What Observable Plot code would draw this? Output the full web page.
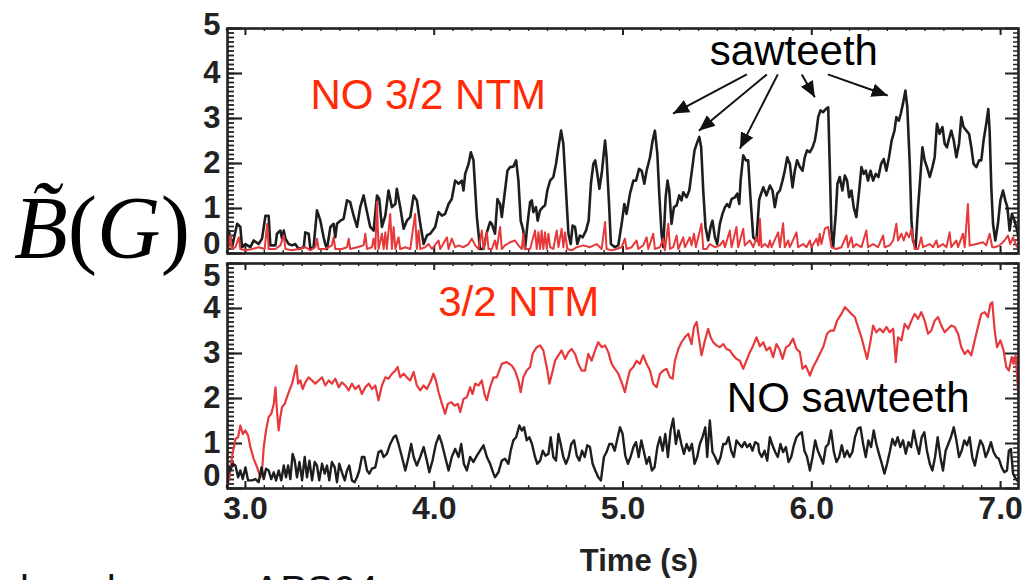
<!DOCTYPE html>
<html><head><meta charset="utf-8">
<script src="https://cdn.jsdelivr.net/npm/d3@7"></script>
<script src="https://cdn.jsdelivr.net/npm/@observablehq/plot@0.6"></script>
<style>
html,body{margin:0;padding:0;background:#fff;overflow:hidden}
#wrap{position:relative;width:1024px;height:580px;overflow:hidden;background:#fff}
#wrap svg{position:absolute;left:0}
</style></head><body><div id="wrap"></div>
<script>
// ---------------- DATA ----------------
const xDomain = [2.905, 7.095];
const yDomain = [0, 5];
const yMajor = [0, 1, 2, 3, 4, 5];
const xMajor = [3, 4, 5, 6, 7];
const xTickLabels = ["3.0", "4.0", "5.0", "6.0", "7.0"];
const yMinor = d3.range(0, 51).map(i => i / 10);
const xMinor = d3.range(29, 71).map(i => i / 10);

// Top panel: black = sawteeth signal, red = 3/2 mode (absent)
const topBlack = [[2.903,0.36],[2.912,0.51],[2.929,0.14],[2.956,0.66],[2.973,0.59],[2.982,0.14],[3.000,0.21],[3.026,0.14],[3.044,0.29],[3.070,0.21],[3.088,0.33],[3.106,0.84],[3.123,0.84],[3.132,0.18],[3.159,0.18],[3.167,0.44],[3.185,0.51],[3.194,0.33],[3.203,0.51],[3.212,0.33],[3.229,0.21],[3.247,0.18],[3.264,0.21],[3.282,0.10],[3.309,0.14],[3.317,0.47],[3.335,0.44],[3.344,0.10],[3.361,0.14],[3.379,0.96],[3.397,0.73],[3.414,0.36],[3.423,0.21],[3.432,0.10],[3.450,0.59],[3.467,0.66],[3.476,0.36],[3.485,0.66],[3.503,0.73],[3.520,0.77],[3.538,1.18],[3.555,1.14],[3.573,0.84],[3.591,0.59],[3.608,1.03],[3.626,1.29],[3.644,0.92],[3.661,0.59],[3.679,0.51],[3.697,1.29],[3.709,1.21],[3.723,0.59],[3.741,0.84],[3.758,1.40],[3.776,1.03],[3.794,1.10],[3.802,1.44],[3.820,1.03],[3.838,0.55],[3.855,0.73],[3.873,0.81],[3.891,1.29],[3.908,1.18],[3.926,0.66],[3.944,0.21],[3.961,0.40],[3.979,0.44],[4.005,0.59],[4.023,0.92],[4.041,0.84],[4.058,0.88],[4.076,1.10],[4.093,1.21],[4.111,1.62],[4.129,1.55],[4.146,1.62],[4.155,1.40],[4.164,1.77],[4.182,1.99],[4.194,2.25],[4.208,2.07],[4.226,0.81],[4.243,0.10],[4.261,0.10],[4.279,0.47],[4.296,0.70],
[4.305,0.66],[4.322,0.44],[4.335,1.21],[4.349,1.10],[4.358,0.81],[4.375,1.40],[4.388,1.84],[4.402,1.92],[4.419,1.93],[4.434,2.07],[4.446,1.62],[4.458,0.73],[4.472,0.51],[4.481,0.10],[4.494,0.66],[4.508,1.14],[4.517,1.18],[4.525,0.92],[4.539,1.03],[4.548,0.73],[4.561,0.96],[4.575,1.03],[4.587,1.07],[4.599,1.40],[4.614,1.62],[4.631,1.70],[4.645,1.99],[4.658,2.36],[4.672,2.73],[4.684,2.44],[4.698,1.40],[4.711,0.44],[4.723,0.21],[4.733,0.62],[4.746,0.59],[4.758,0.21],[4.772,0.40],[4.786,0.36],[4.804,0.51],[4.818,0.73],[4.830,1.55],[4.843,1.99],[4.853,2.07],[4.864,1.77],[4.875,1.44],[4.889,1.84],[4.905,2.51],[4.913,2.14],[4.926,1.10],[4.936,0.21],[4.957,0.14],[4.975,0.18],[4.993,0.66],[5.007,1.10],[5.019,0.88],[5.037,1.33],[5.055,1.62],[5.069,1.62],[5.085,1.88],[5.099,1.84],[5.113,1.55],[5.125,1.84],[5.143,2.14],[5.157,2.51],[5.169,2.73],[5.182,2.21],[5.192,1.33],[5.204,0.44],[5.213,0.14],[5.226,1.25],[5.236,1.62],[5.245,1.40],[5.257,0.66],[5.270,1.03],[5.284,1.07],[5.298,1.29],[5.310,1.18],[5.319,1.36],[5.337,1.25],[5.351,1.40],[5.365,1.84],[5.379,2.29],[5.393,2.47],[5.404,2.59],[5.414,2.36],[5.425,1.40],[5.437,0.59],[5.451,0.29],[5.464,0.59],[5.474,0.73],[5.487,0.36],[5.499,0.21],[5.513,0.66],[5.527,0.88],[5.540,1.03],[5.552,1.10],[5.563,1.03],[5.575,1.21],[5.593,1.25],[5.605,1.33],[5.616,1.10],[5.623,1.62],[5.637,2.18],[5.651,2.07],[5.663,2.07],[5.675,1.25],[5.690,0.36],[5.707,0.29],[5.721,1.18],
[5.725,1.25],[5.743,1.47],[5.760,1.29],[5.778,1.51],[5.792,1.40],[5.804,1.03],[5.817,1.33],[5.831,1.40],[5.845,1.62],[5.857,1.84],[5.870,2.14],[5.884,1.99],[5.898,1.47],[5.910,1.84],[5.922,2.07],[5.937,1.92],[5.951,1.84],[5.963,2.14],[5.975,2.29],[5.990,2.25],[6.004,2.36],[6.016,2.51],[6.025,2.73],[6.034,3.03],[6.046,3.18],[6.060,3.14],[6.074,3.21],[6.087,3.25],[6.095,1.99],[6.104,0.51],[6.113,0.14],[6.127,0.88],[6.136,1.55],[6.148,1.70],[6.162,1.40],[6.175,1.73],[6.187,1.62],[6.198,1.25],[6.210,1.40],[6.222,1.03],[6.236,0.81],[6.251,1.40],[6.263,1.92],[6.275,1.77],[6.286,1.84],[6.298,1.62],[6.311,1.84],[6.325,1.62],[6.339,1.77],[6.353,1.70],[6.367,1.99],[6.381,2.10],[6.395,1.84],[6.409,2.14],[6.423,2.51],[6.438,2.73],[6.448,3.03],[6.461,2.95],[6.471,3.10],[6.483,3.33],[6.496,3.62],[6.506,3.25],[6.519,1.99],[6.528,0.73],[6.536,0.29],[6.550,0.14],[6.563,1.03],[6.575,1.70],[6.586,2.36],[6.598,2.07],[6.610,1.92],[6.625,1.70],[6.639,1.92],[6.651,2.14],[6.663,2.88],[6.677,2.66],[6.692,2.81],[6.704,2.44],[6.716,2.36],[6.727,2.55],[6.739,2.73],[6.752,2.51],[6.766,2.14],[6.780,2.44],[6.792,3.03],[6.804,2.81],[6.819,2.73],[6.833,2.66],[6.845,2.36],[6.857,1.99],[6.872,1.92],[6.886,2.07],[6.898,2.07],[6.910,2.51],[6.924,2.88],[6.935,3.21],[6.942,2.73],[6.951,1.47],[6.960,0.66],[6.972,0.29],[6.986,0.66],[6.999,1.18],[7.013,1.40],[7.025,1.18],[7.036,1.03],[7.048,0.51],[7.060,0.88],[7.074,0.73],[7.088,0.51],[7.101,0.21]];

const topRed = [[2.894,0.10],[2.912,0.14],[2.920,0.40],[2.929,0.10],[2.947,0.14],[2.965,0.36],[2.973,0.10],[3.000,0.07],[3.035,0.10],[3.070,0.14],[3.102,0.10],[3.115,0.66],[3.123,0.10],[3.159,0.10],[3.185,0.18],[3.203,0.40],[3.212,0.10],[3.247,0.07],[3.282,0.10],[3.317,0.14],[3.344,0.07],[3.370,0.14],[3.379,0.33],[3.388,0.10],[3.423,0.10],[3.458,0.18],[3.467,0.36],[3.476,0.10],[3.511,0.10],[3.538,0.14],[3.547,0.33],[3.555,0.10],[3.591,0.14],[3.626,0.18],[3.635,0.44],[3.644,0.10],[3.670,0.14],[3.679,0.33],[3.688,0.10],[3.697,1.15],[3.705,0.10],[3.723,0.44],[3.732,0.10],[3.741,0.47],[3.749,0.10],[3.767,0.88],[3.776,0.10],[3.785,0.59],[3.794,0.10],[3.811,0.36],[3.820,0.10],[3.847,0.14],[3.873,0.10],[3.899,0.88],[3.908,0.10],[3.917,0.51],[3.926,0.10],[3.952,0.14],[3.970,0.21],[3.988,0.10],[4.023,0.29],[4.032,0.10],[4.067,0.36],[4.076,0.10],[4.093,0.33],[4.111,0.14],[4.129,0.18],[4.155,0.14],[4.182,0.21],[4.199,0.33],[4.217,0.18],[4.235,0.10],[4.252,0.51],[4.261,0.10],[4.279,0.47],[4.288,0.10],
[4.305,0.10],[4.322,0.29],[4.331,0.10],[4.349,0.59],[4.358,0.10],[4.375,0.18],[4.402,0.25],[4.428,0.29],[4.446,0.18],[4.464,0.10],[4.472,0.44],[4.481,0.10],[4.508,0.10],[4.534,0.51],[4.543,0.10],[4.552,0.47],[4.561,0.10],[4.569,0.51],[4.578,0.10],[4.587,0.47],[4.596,0.10],[4.605,0.44],[4.614,0.14],[4.631,0.10],[4.649,0.51],[4.658,0.14],[4.675,0.55],[4.684,0.14],[4.693,0.47],[4.705,0.10],[4.728,0.07],[4.755,0.14],[4.790,0.18],[4.825,0.14],[4.860,0.21],[4.887,0.10],[4.905,0.70],[4.913,0.10],[4.940,0.07],[4.966,0.10],[4.993,0.14],[5.010,0.33],[5.019,0.10],[5.046,0.14],[5.072,0.29],[5.081,0.10],[5.107,0.18],[5.125,0.36],[5.134,0.10],[5.160,0.44],[5.169,0.10],[5.196,0.14],[5.213,0.33],[5.222,0.07],[5.240,0.66],[5.249,0.10],[5.266,0.14],[5.284,0.40],[5.293,0.10],[5.319,0.36],[5.328,0.14],[5.354,0.36],[5.363,0.18],[5.376,0.44],[5.386,0.14],[5.416,0.66],[5.425,0.10],[5.443,0.10],[5.460,0.21],[5.487,0.14],[5.513,0.18],[5.531,0.29],[5.540,0.14],[5.566,0.51],[5.575,0.14],[5.601,0.59],[5.610,0.14],[5.637,0.55],[5.645,0.18],[5.672,0.29],[5.690,0.14],[5.707,0.36],[5.721,0.18],
[5.725,0.77],[5.734,0.14],[5.751,0.21],[5.769,0.14],[5.778,0.29],[5.787,0.14],[5.822,0.47],[5.831,0.14],[5.848,0.67],[5.857,0.14],[5.875,0.29],[5.884,0.14],[5.919,0.47],[5.928,0.14],[5.954,0.21],[5.972,0.14],[5.990,0.29],[5.998,0.14],[6.025,0.33],[6.034,0.18],[6.042,0.44],[6.051,0.21],[6.069,0.55],[6.087,0.59],[6.095,0.36],[6.104,0.14],[6.131,0.10],[6.157,0.14],[6.184,0.40],[6.192,0.14],[6.210,0.36],[6.219,0.14],[6.236,0.21],[6.263,0.14],[6.289,0.51],[6.298,0.14],[6.325,0.21],[6.351,0.14],[6.378,0.40],[6.386,0.14],[6.413,0.18],[6.431,0.29],[6.448,0.66],[6.457,0.29],[6.475,0.44],[6.487,0.29],[6.501,0.47],[6.515,0.36],[6.528,0.55],[6.545,0.10],[6.563,0.10],[6.580,0.36],[6.589,0.14],[6.625,0.21],[6.642,0.14],[6.660,0.29],[6.669,0.14],[6.695,0.21],[6.713,0.14],[6.730,0.47],[6.739,0.14],[6.766,0.29],[6.775,0.14],[6.801,0.44],[6.810,0.14],[6.827,1.10],[6.836,0.18],[6.872,0.21],[6.907,0.25],[6.924,0.18],[6.942,0.44],[6.956,0.14],[6.969,0.14],[6.995,0.18],[7.021,0.29],[7.039,0.40],[7.051,0.21],[7.066,0.36],[7.083,0.18],[7.097,0.10]];

// Bottom panel: red = 3/2 NTM, black = no sawteeth
const bottomRed = [[2.903,0.03],[2.915,0.25],[2.929,0.70],[2.947,1.10],[2.961,1.14],[2.973,1.40],[2.986,1.21],[3.000,1.29],[3.014,1.18],[3.026,0.92],[3.044,0.66],[3.062,0.47],[3.079,0.25],[3.088,0.40],[3.097,0.92],[3.109,1.29],[3.123,1.59],[3.137,1.66],[3.150,1.88],[3.159,2.25],[3.167,1.73],[3.176,1.29],[3.185,1.59],[3.194,1.81],[3.208,1.88],[3.220,2.03],[3.233,2.18],[3.247,2.33],[3.259,2.55],[3.270,2.73],[3.279,2.33],[3.291,2.40],[3.303,2.21],[3.317,2.36],[3.335,2.47],[3.353,2.40],[3.370,2.33],[3.388,2.40],[3.406,2.47],[3.423,2.29],[3.441,2.40],[3.458,2.33],[3.476,2.44],[3.494,2.25],[3.511,2.36],[3.529,2.29],[3.547,2.18],[3.564,2.33],[3.582,2.21],[3.600,2.29],[3.617,2.10],[3.635,2.25],[3.653,2.33],[3.670,2.21],[3.688,2.29],[3.705,1.96],[3.723,2.29],[3.741,2.47],[3.758,2.44],[3.776,2.55],[3.794,2.62],[3.806,2.70],[3.820,2.47],[3.838,2.55],[3.855,2.47],[3.873,2.40],[3.891,2.59],[3.908,2.29],[3.926,2.18],[3.944,2.29],[3.961,2.21],[3.979,2.36],[3.996,2.55],[4.009,2.40],[4.023,2.14],[4.041,1.88],[4.058,1.66],[4.072,1.88],[4.090,1.92],[4.108,1.84],[4.125,1.88],[4.138,1.70],[4.155,1.99],[4.173,2.03],[4.190,2.25],[4.203,2.10],[4.217,2.33],[4.235,2.29],[4.252,2.40],[4.266,2.10],[4.279,1.96],[4.296,2.25],[4.314,2.47],
[4.331,2.47],[4.358,2.77],[4.384,2.81],[4.411,2.73],[4.428,2.62],[4.446,2.40],[4.458,2.14],[4.472,2.47],[4.490,2.62],[4.508,2.70],[4.522,3.00],[4.543,3.14],[4.561,3.18],[4.578,3.07],[4.596,2.70],[4.610,2.33],[4.628,2.62],[4.640,2.84],[4.658,2.96],[4.675,3.07],[4.693,2.88],[4.711,3.03],[4.728,3.10],[4.746,2.99],[4.763,2.77],[4.781,2.62],[4.799,2.62],[4.816,2.99],[4.834,2.84],[4.852,3.07],[4.869,3.25],[4.887,3.14],[4.905,3.18],[4.922,3.03],[4.940,2.77],[4.957,2.66],[4.975,2.55],[4.993,2.36],[5.010,2.14],[5.023,2.40],[5.037,2.62],[5.055,2.70],[5.072,2.84],[5.090,2.77],[5.107,2.96],[5.125,2.77],[5.143,2.62],[5.160,2.33],[5.178,2.25],[5.196,2.55],[5.213,2.62],[5.231,2.66],[5.249,2.47],[5.263,2.44],[5.275,2.84],[5.293,3.10],[5.310,3.25],[5.328,3.36],[5.346,3.44],[5.363,3.21],[5.376,3.59],[5.390,3.70],[5.404,3.29],[5.416,2.96],[5.434,3.29],[5.451,3.55],[5.464,3.36],[5.478,3.25],[5.495,3.18],[5.513,3.14],[5.531,3.21],[5.548,3.10],[5.566,3.07],[5.584,2.96],[5.601,2.88],[5.619,2.84],[5.637,2.66],[5.654,2.84],[5.672,3.03],[5.690,3.18],[5.707,3.36],[5.721,3.21],
[5.725,3.16],[5.743,3.25],[5.760,3.07],[5.778,3.14],[5.795,2.92],[5.813,3.21],[5.831,3.07],[5.845,2.88],[5.863,3.14],[5.880,3.18],[5.901,3.33],[5.919,3.10],[5.937,3.03],[5.951,2.66],[5.968,2.73],[5.990,2.51],[6.007,2.70],[6.025,2.84],[6.042,2.99],[6.060,3.14],[6.081,3.44],[6.099,3.51],[6.117,3.51],[6.134,3.73],[6.157,3.88],[6.175,4.03],[6.192,3.96],[6.210,3.88],[6.228,3.81],[6.245,3.59],[6.263,3.36],[6.281,3.07],[6.293,2.88],[6.307,3.18],[6.325,3.62],[6.342,3.47],[6.360,3.55],[6.378,3.47],[6.395,3.59],[6.413,3.47],[6.431,3.55],[6.445,2.81],[6.457,3.36],[6.475,3.29],[6.492,3.66],[6.510,3.55],[6.528,3.73],[6.545,3.88],[6.563,3.77],[6.580,3.92],[6.598,3.73],[6.616,3.44],[6.633,3.51],[6.651,3.73],[6.669,3.81],[6.686,3.62],[6.704,3.47],[6.722,3.55],[6.739,3.62],[6.757,3.59],[6.775,3.44],[6.792,3.14],[6.810,2.99],[6.827,3.07],[6.845,2.96],[6.863,3.29],[6.880,3.59],[6.898,3.88],[6.916,3.92],[6.933,3.81],[6.946,4.10],[6.956,4.14],[6.969,3.51],[6.981,3.14],[6.999,3.29],[7.016,3.07],[7.030,2.70],[7.044,2.62],[7.059,2.92],[7.069,2.77],[7.080,2.96],[7.089,2.40],[7.097,1.90]];

const bottomBlack = [[2.903,0.10],[2.912,0.47],[2.920,0.40],[2.933,0.55],[2.947,0.51],[2.961,0.25],[2.973,0.40],[2.986,0.21],[3.000,0.47],[3.014,0.18],[3.035,0.18],[3.053,0.21],[3.070,0.14],[3.085,0.47],[3.097,0.21],[3.109,0.44],[3.123,0.40],[3.137,0.21],[3.150,0.36],[3.162,0.18],[3.176,0.40],[3.190,0.18],[3.203,0.51],[3.215,0.25],[3.226,0.51],[3.238,0.21],[3.250,0.77],[3.261,0.62],[3.273,0.25],[3.286,0.59],[3.300,0.18],[3.314,0.70],[3.326,0.25],[3.339,0.62],[3.353,0.18],[3.367,0.59],[3.379,0.51],[3.391,0.18],[3.406,0.55],[3.420,0.33],[3.432,0.51],[3.444,0.18],[3.458,0.59],[3.473,0.47],[3.485,0.14],[3.497,0.55],[3.511,0.36],[3.526,0.18],[3.538,0.40],[3.550,0.51],[3.564,0.18],[3.578,0.14],[3.591,0.25],[3.603,0.40],[3.617,0.70],[3.630,0.70],[3.644,0.40],[3.656,0.33],[3.670,0.44],[3.688,0.47],[3.705,0.81],[3.720,0.84],[3.732,0.70],[3.749,0.77],[3.767,0.99],[3.785,1.14],[3.797,1.18],[3.811,0.99],[3.829,0.70],[3.847,0.40],[3.864,0.70],[3.878,0.99],[3.891,0.70],[3.908,0.51],[3.926,0.70],[3.944,0.92],[3.961,0.62],[3.974,0.36],[3.991,0.62],[4.009,0.99],[4.026,1.18],[4.041,0.99],[4.058,0.70],[4.076,0.40],[4.093,0.70],[4.111,0.88],[4.129,0.70],[4.143,0.99],[4.157,0.55],[4.173,0.40],[4.190,0.70],[4.208,0.59],[4.226,0.73],[4.243,0.84],[4.261,0.96],[4.279,0.70],[4.296,0.55],[4.314,0.33],
[4.322,0.25],[4.340,0.36],[4.358,0.62],[4.375,0.66],[4.393,0.55],[4.405,0.84],[4.419,1.07],[4.434,1.14],[4.451,1.40],[4.464,1.29],[4.476,1.36],[4.490,1.07],[4.504,1.14],[4.518,0.99],[4.534,0.70],[4.546,0.55],[4.561,0.62],[4.575,0.84],[4.589,0.73],[4.605,0.77],[4.617,1.14],[4.631,0.70],[4.645,0.62],[4.658,1.21],[4.670,0.99],[4.684,0.70],[4.698,0.55],[4.712,0.70],[4.726,0.99],[4.741,1.07],[4.755,0.73],[4.769,0.62],[4.783,0.84],[4.797,0.70],[4.811,0.96],[4.825,0.92],[4.839,0.55],[4.853,0.40],[4.869,0.25],[4.883,0.18],[4.899,0.70],[4.913,0.81],[4.928,0.99],[4.942,0.99],[4.956,0.84],[4.970,1.10],[4.984,1.36],[4.998,1.21],[5.012,0.73],[5.026,0.55],[5.040,0.70],[5.055,0.92],[5.069,1.03],[5.083,0.70],[5.097,1.07],[5.111,0.81],[5.125,0.55],[5.139,0.70],[5.153,0.40],[5.167,0.47],[5.182,0.92],[5.196,1.14],[5.210,0.84],[5.224,1.21],[5.238,0.70],[5.252,1.29],[5.266,1.55],[5.280,0.99],[5.294,1.29],[5.309,0.99],[5.323,0.77],[5.337,0.99],[5.351,0.84],[5.365,0.99],[5.379,0.55],[5.393,0.70],[5.407,0.99],[5.421,1.14],[5.436,1.36],[5.446,0.70],[5.460,1.51],[5.474,0.81],[5.488,0.70],[5.503,0.55],[5.517,0.70],[5.531,0.99],[5.545,0.99],[5.559,1.14],[5.573,0.84],[5.587,0.70],[5.601,1.07],[5.615,0.99],[5.630,0.92],[5.644,1.03],[5.658,0.92],[5.672,0.99],[5.686,0.84],[5.700,1.03],[5.716,0.99],
[5.721,0.81],[5.735,0.70],[5.750,0.84],[5.764,0.62],[5.778,1.14],[5.792,0.96],[5.806,0.81],[5.820,0.70],[5.834,0.99],[5.848,0.81],[5.863,0.92],[5.877,0.59],[5.891,0.70],[5.905,0.96],[5.919,1.14],[5.933,1.21],[5.947,1.25],[5.961,0.84],[5.975,0.70],[5.990,0.40],[6.004,0.70],[6.018,1.07],[6.032,0.84],[6.046,0.70],[6.060,0.55],[6.074,0.92],[6.088,0.99],[6.102,1.29],[6.117,0.81],[6.131,0.59],[6.145,0.70],[6.159,0.96],[6.173,0.70],[6.187,0.84],[6.201,0.70],[6.215,0.81],[6.229,1.14],[6.244,1.33],[6.258,1.36],[6.272,0.99],[6.286,0.70],[6.300,1.07],[6.314,0.92],[6.328,1.29],[6.342,0.99],[6.356,0.77],[6.371,0.55],[6.385,0.33],[6.399,0.55],[6.413,0.81],[6.427,1.10],[6.441,0.96],[6.455,1.14],[6.469,0.92],[6.483,1.07],[6.498,0.77],[6.512,1.03],[6.526,0.92],[6.540,1.29],[6.554,0.99],[6.568,0.77],[6.582,1.14],[6.596,1.25],[6.610,0.84],[6.625,0.55],[6.639,0.40],[6.653,0.70],[6.667,1.14],[6.681,0.70],[6.695,0.40],[6.709,0.84],[6.723,0.99],[6.737,1.14],[6.752,1.36],[6.766,1.07],[6.780,0.70],[6.794,0.84],[6.808,1.07],[6.822,0.96],[6.836,1.14],[6.850,0.70],[6.864,0.51],[6.879,0.84],[6.893,1.07],[6.907,0.96],[6.921,0.70],[6.935,0.84],[6.949,1.03],[6.963,0.81],[6.977,0.70],[6.991,0.66],[7.006,0.47],[7.020,0.36],[7.034,0.40],[7.044,0.84],[7.055,0.88],[7.066,0.33],[7.076,0.25],[7.087,0.18]];

// Annotations (data coordinates)
const topNotes = [
  {x: 3.344, y: 3.22, text: "NO 3/2 NTM", color: "red"},
  {x: 5.460, y: 4.19, text: "sawteeth", color: "black"}
];
const bottomNotes = [
  {x: 4.021, y: 3.84, text: "3/2 NTM", color: "red"},
  {x: 5.550, y: 1.69, text: "NO sawteeth", color: "black"}
];
const sawArrows = [
  {x1: 5.656, y1: 3.98, x2: 5.265, y2: 3.11},
  {x1: 5.762, y1: 3.98, x2: 5.402, y2: 2.73},
  {x1: 5.820, y1: 3.98, x2: 5.619, y2: 2.33},
  {x1: 5.947, y1: 3.98, x2: 6.016, y2: 3.47},
  {x1: 6.085, y1: 3.98, x2: 6.402, y2: 3.51}
];
const yLabelText = ["0", "1", "2", "3", "4", "5"];
const xTitle = "Time (s)";
const yTitleParts = ["B\u0303", "(", "G", ")"];
const footText = "laced curves APS04";

// ---------------- STYLE ----------------
const INK = "#222222";
const LINE_BLACK = "#1e1e1e";
const LINE_RED = "#e6393b";
const TEXT_RED = "#ff2a06";
const SANS = "'Liberation Sans', Arial, Helvetica, sans-serif";
const SERIF = "'Liberation Serif', 'Times New Roman', serif";
const colorOf = c => c === "red" ? TEXT_RED : "#000";

function headMarker(color) {
  const ns = "http://www.w3.org/2000/svg";
  const m = document.createElementNS(ns, "marker");
  m.setAttribute("viewBox", "-10 -5 10 10");
  m.setAttribute("markerWidth", 8);
  m.setAttribute("markerHeight", 8);
  m.setAttribute("orient", "auto");
  const p = document.createElementNS(ns, "path");
  p.setAttribute("d", "M-10,-4.3L0,0L-10,4.3Z");
  p.setAttribute("fill", color);
  p.setAttribute("stroke", "none");
  m.appendChild(p);
  return m;
}

function panel({height, marginTop, marginBottom, series, notes, arrows, labelShift, showX, useMarker}) {
  const marginLeft = 227, marginRight = 6;
  const plotW = 1024 - marginLeft - marginRight;
  const plotH = height - marginTop - marginBottom;
  const marks = [];
  marks.push(Plot.ruleY(yMinor, {stroke: INK, strokeWidth: 1.8, insetRight: plotW - 7}));
  marks.push(Plot.ruleY(yMajor, {stroke: INK, strokeWidth: 2.2, insetRight: plotW - 15}));
  marks.push(Plot.ruleY(yMinor, {stroke: INK, strokeWidth: 1.5, insetLeft: plotW - 5}));
  marks.push(Plot.ruleY(yMajor, {stroke: INK, strokeWidth: 2, insetLeft: plotW - 13}));
  marks.push(Plot.ruleX(xMinor, {stroke: INK, strokeWidth: 1.4, insetBottom: plotH - 3}));
  marks.push(Plot.ruleX(xMajor, {stroke: INK, strokeWidth: 2, insetBottom: plotH - 7}));
  marks.push(Plot.ruleX(xMinor, {stroke: INK, strokeWidth: 1.4, insetTop: plotH - 3}));
  marks.push(Plot.ruleX(xMajor, {stroke: INK, strokeWidth: 2, insetTop: plotH - 7}));
  for (const s of series) {
    marks.push(Plot.line(s.data, {x: d => d[0], y: d => d[1], stroke: s.stroke, strokeWidth: s.width, clip: true, strokeLinejoin: "round"}));
  }
  marks.push(Plot.frame({stroke: INK, strokeWidth: 2.6}));
  yMajor.forEach((v, i) => {
    marks.push(Plot.text([v], {y: d => d, frameAnchor: "left", text: () => yLabelText[i], textAnchor: "end", dx: -7, dy: labelShift[v] || 0, fontSize: 31, fontWeight: "bold", fill: INK, fontFamily: SANS}));
  });
  if (showX) {
    marks.push(Plot.text(xMajor, {x: d => d, frameAnchor: "bottom", text: (d, i) => xTickLabels[i], dy: 30, fontSize: 32, fontWeight: "bold", fill: INK, fontFamily: SANS}));
  }
  marks.push(Plot.text(notes, {x: "x", y: "y", text: "text", fill: d => colorOf(d.color), textAnchor: "start", lineAnchor: "bottom", fontSize: 42, fontFamily: SANS}));
  if (arrows && arrows.length) {
    if (useMarker) {
      marks.push(Plot.link(arrows, {x1: "x1", y1: "y1", x2: "x2", y2: "y2", stroke: "#111", strokeWidth: 2, markerEnd: headMarker}));
    } else {
      marks.push(Plot.arrow(arrows, {x1: "x1", y1: "y1", x2: "x2", y2: "y2", stroke: "#111", strokeWidth: 2, headLength: 14, headAngle: 45}));
    }
  }
  return Plot.plot({
    width: 1024, height, marginLeft, marginRight, marginTop, marginBottom,
    x: {domain: xDomain, axis: null},
    y: {domain: yDomain, axis: null},
    color: {type: "identity"},
    style: {fontFamily: SANS, background: "transparent", overflow: "visible"},
    marks
  });
}

const wrap = document.getElementById("wrap");

function makeTop(useMarker) {
  return panel({height: 256, marginTop: 28, marginBottom: 3,
    series: [{data: topBlack, stroke: LINE_BLACK, width: 2.6}, {data: topRed, stroke: LINE_RED, width: 2}],
    notes: topNotes, arrows: sawArrows, labelShift: {0: -9, 5: -3}, showX: false, useMarker});
}
let topSvg;
try { topSvg = makeTop(true); } catch (e) { topSvg = makeTop(false); }
topSvg.style.top = "0px";
wrap.appendChild(topSvg);

const bottomSvg = panel({height: 324, marginTop: 7, marginBottom: 92,
  series: [{data: bottomRed, stroke: LINE_RED, width: 2.2}, {data: bottomBlack, stroke: LINE_BLACK, width: 2.4}],
  notes: bottomNotes, arrows: [], labelShift: {0: -12, 5: 13}, showX: true});
bottomSvg.style.top = "256px";
wrap.appendChild(bottomSvg);

const ov = d3.create("svg").attr("width", 1024).attr("height", 580)
  .style("top", "0px").style("pointer-events", "none");
const yt = ov.append("text").attr("x", 14).attr("y", 257)
  .attr("font-family", SERIF).attr("font-size", 88).attr("fill", "#000");
yt.append("tspan").attr("font-style", "italic").text(yTitleParts[0]);
yt.append("tspan").text(yTitleParts[1]);
yt.append("tspan").attr("font-style", "italic").text(yTitleParts[2]);
yt.append("tspan").text(yTitleParts[3]);
ov.append("text").attr("x", 639).attr("y", 571).attr("text-anchor", "middle")
  .attr("font-family", SANS).attr("font-weight", "bold").attr("font-size", 31).attr("fill", INK).text(xTitle);
ov.append("text").attr("x", 20).attr("y", 604)
  .attr("font-family", SANS).attr("font-size", 40).attr("fill", "#111").text(footText);
wrap.appendChild(ov.node());
</script></body></html>
